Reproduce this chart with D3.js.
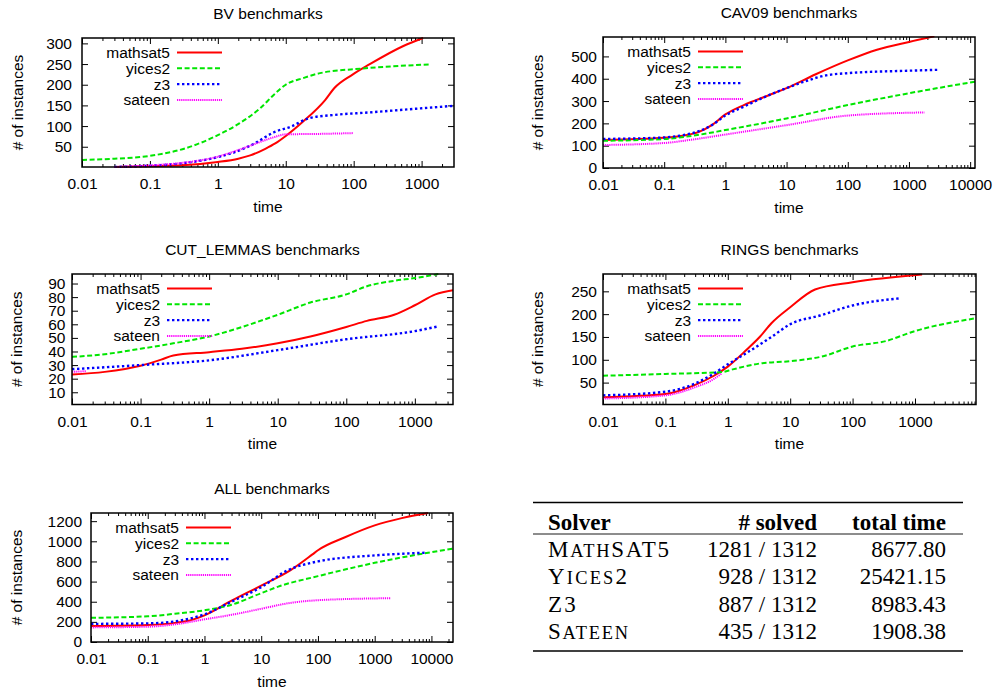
<!DOCTYPE html>
<html><head><meta charset="utf-8">
<script src="https://cdn.jsdelivr.net/npm/d3@7"></script>
<style>
body{margin:0;background:#fff}
svg text{font-family:"Liberation Sans",Arial,Helvetica,sans-serif}
</style>
</head><body>
<svg id="c" width="995" height="690"></svg>
<script>
// ---------------- DATA ----------------
const seriesNames = ["mathsat5", "yices2", "z3", "sateen"];
const panelTitles = ["BV benchmarks", "CAV09 benchmarks", "CUT_LEMMAS benchmarks", "RINGS benchmarks", "ALL benchmarks"];
const xLabel = "time";
const yLabel = "# of instances";

const xTicksK3 = [0.01, 0.1, 1, 10, 100, 1000];
const xTicksK4 = [0.01, 0.1, 1, 10, 100, 1000, 10000];
const yTicksBV = [50, 100, 150, 200, 250, 300];
const yTicksCAV = [0, 100, 200, 300, 400, 500];
const yTicksCUT = [10, 20, 30, 40, 50, 60, 70, 80, 90];
const yTicksRINGS = [50, 100, 150, 200, 250];
const yTicksALL = [0, 200, 400, 600, 800, 1000, 1200];

// [time, # of instances]
const bvMathsat5 = [[0.03,1],[0.1,3],[0.3,5],[1,13],[2,21],[3,29],[5,45],[7,58],[10,76],[18,111],[38,163],[52,192],[95,224],[170,249],[530,293],[1050,313]];
const bvYices2   = [[0.01,18],[0.03,21],[0.1,28],[0.33,46],[1,78],[2.1,107],[4.2,143],[6.7,176],[10,200],[18,216],[32,228],[130,239],[1300,249]];
const bvZ3       = [[0.03,1],[0.1,4],[0.3,10],[1,25],[2,40],[3.3,56],[6.7,85],[12,99],[22,119],[52,127],[170,133],[1000,143],[3000,149]];
const bvSateen   = [[0.03,1],[0.1,5],[0.3,11],[1,26],[2,42],[3.3,55],[6.7,73],[10,80],[30,81],[100,83]];

const cavMathsat5 = [[0.01,125],[0.1,135],[0.2,145],[0.37,162],[0.6,192],[1,240],[2,282],[5,325],[10,358],[30,420],[100,482],[300,530],[1000,565],[2600,590]];
const cavYices2   = [[0.01,122],[0.1,130],[0.3,145],[1,170],[10,222],[100,282],[1000,335],[12000,387]];
const cavZ3       = [[0.01,130],[0.1,137],[0.2,147],[0.37,165],[0.6,192],[1,235],[2,275],[5,325],[10,358],[20,388],[40,413],[100,425],[1000,436],[3000,440]];
const cavSateen   = [[0.01,103],[0.1,112],[0.3,128],[1,150],[10,192],[100,235],[1800,249]];

const cutMathsat5 = [[0.01,23],[0.03,25],[0.1,29.5],[0.2,34],[0.3,37],[1,39.5],[3,42],[10,46],[30,51],[100,58],[200,62.5],[500,67],[1000,74],[2000,82],[3600,85]];
const cutYices2   = [[0.01,36],[0.03,38],[0.1,42],[0.3,46],[1,51],[3,58],[10,67],[30,76],[100,82],[200,88],[500,92],[1000,94],[2200,97]];
const cutZ3       = [[0.01,27],[0.1,30],[1,33.5],[10,41],[100,49],[1000,55],[2200,58.5]];
const cutSateen   = [[0.01,25],[0.016,25.5]];

const ringsMathsat5 = [[0.01,18],[0.1,25],[0.3,45],[0.6,65],[1,85],[2,122],[3.3,151],[5,180],[10,215],[25,254],[100,270],[1300,287]];
const ringsYices2   = [[0.01,65],[0.1,69],[0.8,73],[1.2,79],[3.3,92],[10,97],[32,107],[100,129],[340,141],[1000,163],[9500,191]];
const ringsZ3       = [[0.01,22],[0.1,30],[0.3,48],[0.6,70],[1,90],[2,115],[5,150],[10,178],[30,197],[100,219],[600,235]];
const ringsSateen   = [[0.01,15],[0.1,22],[0.3,40],[0.6,58],[0.8,70]];

const allMathsat5 = [[0.01,160],[0.1,170],[0.3,190],[0.6,220],[1,265],[3,410],[10,560],[33,714],[80,870],[100,911],[300,1040],[1000,1158],[3000,1230],[8700,1280]];
const allYices2   = [[0.01,240],[0.1,255],[0.3,280],[1,315],[3,370],[10,485],[20,550],[100,654],[1000,786],[24000,928]];
const allZ3       = [[0.01,180],[0.1,185],[0.3,205],[1,275],[3,400],[10,545],[30,715],[100,800],[1000,860],[8000,887]];
const allSateen   = [[0.01,145],[0.1,152],[0.3,175],[1,225],[3,270],[10,330],[30,385],[100,415],[1900,435]];

const tableHeader = ["Solver", "# solved", "total time"];
const solverNames = ["MathSAT5", "Yices2", "Z3", "Sateen"];
const solvedCounts = [1281, 928, 887, 435];
const totalInstances = 1312;
const totalTimes = [8677.80, 25421.15, 8983.43, 1908.38];

// ---------------- STYLE / LAYOUT ----------------
const seriesStyle = [
  {color:"#ff0000", dash:null,      width:2},
  {color:"#00e600", dash:"5,2.6",   width:2},
  {color:"#0000ff", dash:"2.4,2.6", width:2.4},
  {color:"#ff00ff", dash:"1.2,0.9", width:2}
];

const panels = [
  {title:panelTitles[0], series:[bvMathsat5,bvYices2,bvZ3,bvSateen], left:82, right:454, top:38, bottom:167,
   xDomain:[0.01,3000], yDomain:[1,313], xTicks:xTicksK3, yTicks:yTicksBV, yLabX:18, yPad:10},
  {title:panelTitles[1], series:[cavMathsat5,cavYices2,cavZ3,cavSateen], left:603, right:975, top:37, bottom:168,
   xDomain:[0.01,12000], yDomain:[0,587], xTicks:xTicksK4, yTicks:yTicksCAV, yLabX:538, yPad:6},
  {title:panelTitles[2], series:[cutMathsat5,cutYices2,cutZ3,cutSateen], left:72, right:453, top:274, bottom:404.5,
   xDomain:[0.01,3600], yDomain:[1,97], xTicks:xTicksK3, yTicks:yTicksCUT, yLabX:17, yPad:6.5},
  {title:panelTitles[3], series:[ringsMathsat5,ringsYices2,ringsZ3,ringsSateen], left:603, right:976, top:274, bottom:404.5,
   xDomain:[0.01,9500], yDomain:[2,288], xTicks:xTicksK3, yTicks:yTicksRINGS, yLabX:538, yPad:6},
  {title:panelTitles[4], series:[allMathsat5,allYices2,allZ3,allSateen], left:91, right:453, top:513, bottom:642,
   xDomain:[0.01,24000], yDomain:[0,1281], xTicks:xTicksK4, yTicks:yTicksALL, yLabX:17, yPad:9}
];

const FS = 15.5;
const svg = d3.select("#c");

const fmtX = d => (d < 1 ? String(d) : d3.format("d")(d));

panels.forEach((p, pi) => {
  const g = svg.append("g");
  const x = d3.scaleLog().domain(p.xDomain).range([p.left, p.right]);
  const y = d3.scaleLinear().domain(p.yDomain).range([p.bottom, p.top]);

  const clipId = "clip" + pi;
  svg.append("clipPath").attr("id", clipId).append("rect")
    .attr("x", p.left).attr("y", p.top - 1).attr("width", p.right - p.left).attr("height", p.bottom - p.top + 2);

  // minor x ticks
  const minors = [];
  const lo = Math.floor(Math.log10(p.xDomain[0])), hi = Math.ceil(Math.log10(p.xDomain[1]));
  for (let k = lo; k < hi; k++) for (let m = 2; m <= 9; m++) {
    const v = m * Math.pow(10, k);
    if (v > p.xDomain[0] && v < p.xDomain[1]) minors.push(v);
  }

  g.append("g").attr("transform", `translate(0,${p.bottom})`)
    .call(d3.axisBottom(x).tickValues(p.xTicks).tickFormat(fmtX).tickSizeInner(-6).tickSizeOuter(0).tickPadding(11));
  g.append("g").attr("transform", `translate(0,${p.top})`)
    .call(d3.axisTop(x).tickValues(p.xTicks).tickFormat("").tickSizeInner(-6).tickSizeOuter(0));
  g.append("g").attr("transform", `translate(0,${p.bottom})`)
    .call(d3.axisBottom(x).tickValues(minors).tickFormat("").tickSizeInner(-3).tickSizeOuter(0));
  g.append("g").attr("transform", `translate(0,${p.top})`)
    .call(d3.axisTop(x).tickValues(minors).tickFormat("").tickSizeInner(-3).tickSizeOuter(0));
  g.append("g").attr("transform", `translate(${p.left},0)`)
    .call(d3.axisLeft(y).tickValues(p.yTicks).tickFormat(d3.format("d")).tickSizeInner(-6).tickSizeOuter(0).tickPadding(p.yPad));
  g.append("g").attr("transform", `translate(${p.right},0)`)
    .call(d3.axisRight(y).tickValues(p.yTicks).tickFormat("").tickSizeInner(-6).tickSizeOuter(0));

  g.selectAll(".domain").remove();
  g.selectAll(".tick line").attr("stroke", "#000").attr("stroke-width", 1);
  g.selectAll(".tick text").attr("fill", "#000").style("font-size", FS + "px")
    .style("font-family", '"Liberation Sans",Arial,sans-serif');

  // curves
  const line = d3.line().x(d => x(d[0])).y(d => y(d[1])).curve(d3.curveMonotoneX);
  const cg = g.append("g").attr("clip-path", `url(#${clipId})`);
  p.series.forEach((s, si) => {
    const st = seriesStyle[si];
    cg.append("path").datum(s).attr("d", line)
      .attr("fill", "none").attr("stroke", st.color).attr("stroke-width", st.width)
      .attr("stroke-dasharray", st.dash).attr("stroke-linejoin", "round");
  });

  // frame
  g.append("rect").attr("x", p.left).attr("y", p.top).attr("width", p.right - p.left).attr("height", p.bottom - p.top)
    .attr("fill", "none").attr("stroke", "#000").attr("stroke-width", 1.5);

  // legend
  seriesNames.forEach((n, si) => {
    const st = seriesStyle[si];
    const ly = p.top + 14.5 + si * 15.8;
    g.append("text").attr("x", p.left + 88).attr("y", ly).attr("dy", "0.35em")
      .attr("text-anchor", "end").style("font-size", FS + "px").text(n);
    g.append("line").attr("x1", p.left + 95).attr("x2", p.left + 140).attr("y1", ly).attr("y2", ly)
      .attr("stroke", st.color).attr("stroke-width", st.width).attr("stroke-dasharray", st.dash);
  });

  // titles and axis labels
  g.append("text").attr("x", (p.left + p.right) / 2).attr("y", p.top - 19.5)
    .attr("text-anchor", "middle").style("font-size", FS + "px").text(p.title);
  g.append("text").attr("x", (p.left + p.right) / 2).attr("y", p.bottom + 44.7)
    .attr("text-anchor", "middle").style("font-size", FS + "px").text(xLabel);
  g.append("text").attr("transform", `translate(${p.yLabX},${(p.top + p.bottom) / 2}) rotate(-90)`)
    .attr("dy", "0.35em").attr("text-anchor", "middle").style("font-size", FS + "px").text(yLabel);
});

// ---------------- TABLE ----------------
const T = {left:533, right:963, top:502.5, mid:534, bot:651,
  col0:548, col1:817, col2:946, headY:530, rowY:[557, 584.3, 611.7, 639], fs:23};
const tg = svg.append("g").style("font-family", '"Liberation Serif","Times New Roman",serif');
tg.append("line").attr("x1", T.left).attr("x2", T.right).attr("y1", T.top).attr("y2", T.top).attr("stroke", "#000").attr("stroke-width", 1.3);
tg.append("line").attr("x1", T.left).attr("x2", T.right).attr("y1", T.mid).attr("y2", T.mid).attr("stroke", "#000").attr("stroke-width", 0.9);
tg.append("line").attr("x1", T.left).attr("x2", T.right).attr("y1", T.bot).attr("y2", T.bot).attr("stroke", "#000").attr("stroke-width", 1.3);

const hx = [T.col0, T.col1, T.col2], ha = ["start", "end", "end"];
tableHeader.forEach((h, i) => {
  tg.append("text").attr("x", hx[i]).attr("y", T.headY).attr("text-anchor", ha[i])
    .style("font-family", '"Liberation Serif","Times New Roman",serif')
    .style("font-weight", "bold").style("font-size", T.fs + "px").text(h);
});
const nameWidths = [121, 79, 27.7, 80];
const fmt2 = d3.format(".2f");
solverNames.forEach((name, i) => {
  const t = tg.append("text").attr("x", T.col0).attr("y", T.rowY[i])
    .style("font-family", '"Liberation Serif","Times New Roman",serif').style("font-size", T.fs + "px");
  // small caps: lowercase letters rendered as smaller capitals
  const parts = [];
  for (const ch of name) {
    const small = ch !== ch.toUpperCase();
    if (parts.length && parts[parts.length - 1].small === small) parts[parts.length - 1].s += ch;
    else parts.push({small, s: ch});
  }
  parts.forEach(pt => t.append("tspan").style("font-size", (pt.small ? T.fs * 0.8 : T.fs) + "px").text(pt.s.toUpperCase()));
  t.attr("textLength", nameWidths[i]).attr("lengthAdjust", "spacing");
  tg.append("text").attr("x", T.col1).attr("y", T.rowY[i]).attr("text-anchor", "end")
    .style("font-family", '"Liberation Serif","Times New Roman",serif').style("font-size", T.fs + "px")
    .text(`${solvedCounts[i]} / ${totalInstances}`);
  tg.append("text").attr("x", T.col2).attr("y", T.rowY[i]).attr("text-anchor", "end")
    .style("font-family", '"Liberation Serif","Times New Roman",serif').style("font-size", T.fs + "px")
    .text(fmt2(totalTimes[i]));
});
</script>
</body></html>
